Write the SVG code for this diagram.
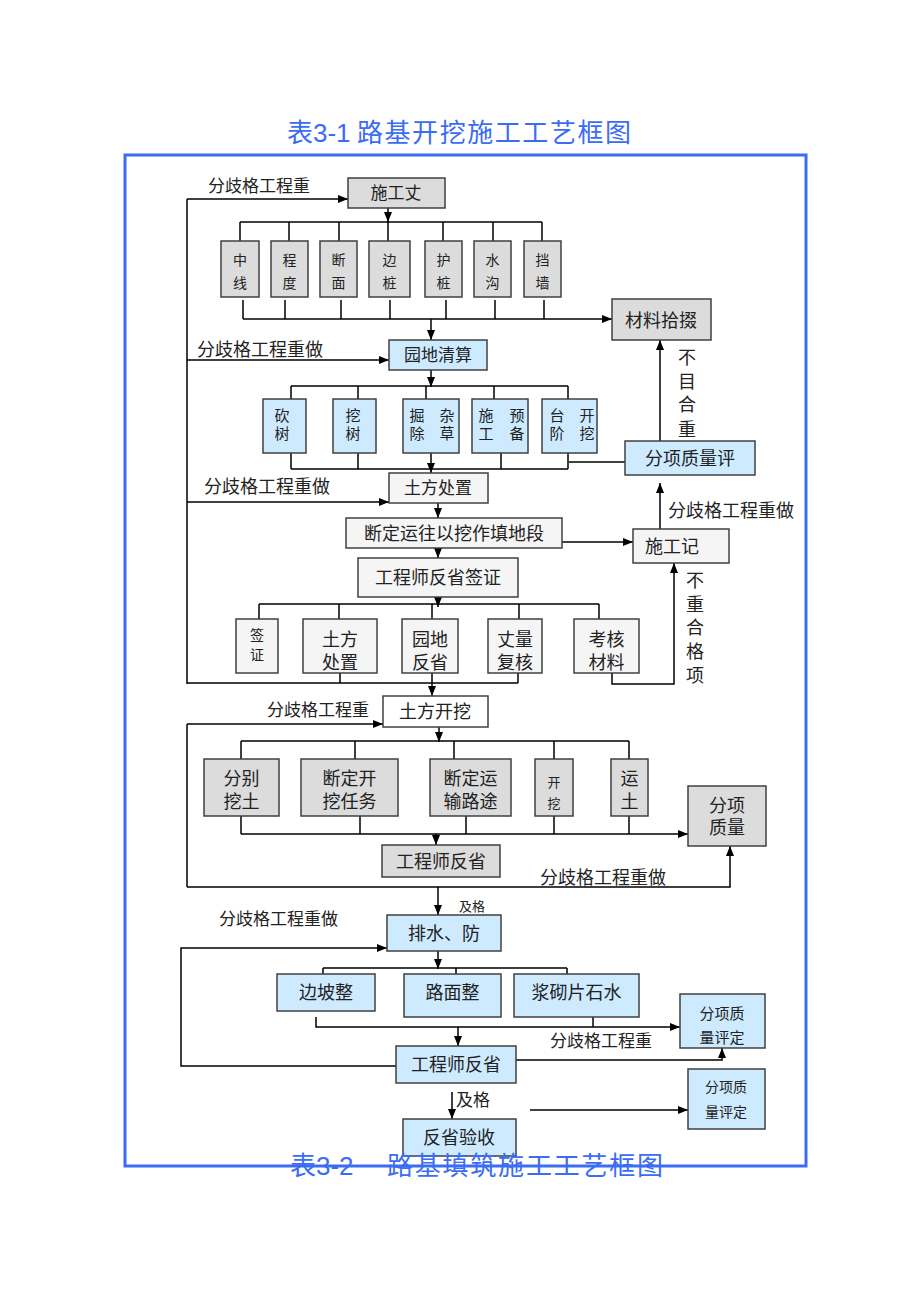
<svg xmlns="http://www.w3.org/2000/svg" width="920" height="1302" viewBox="0 0 920 1302">
<defs>
<marker id="ah" viewBox="0 0 10 8" refX="10" refY="4" markerWidth="10" markerHeight="8" orient="auto" markerUnits="userSpaceOnUse"><path d="M0 0 L10 4 L0 8 z" fill="#000"/></marker>
</defs>
<style>
text{font-family:'Liberation Sans','Noto Sans CJK SC',sans-serif;fill:#222}
.m{text-anchor:middle}
.s13{font-size:13px}.s14{font-size:14px}.s15{font-size:15px}.s17{font-size:17px}.s18{font-size:18px}
.g rect{fill:#dcdcdc;stroke:#404040;stroke-width:1.5}
.b rect{fill:#cdeaff;stroke:#404040;stroke-width:1.5}
.w rect{fill:#f5f5f5;stroke:#404040;stroke-width:1.5}
.x rect{fill:#ffffff;stroke:#404040;stroke-width:1.5}
#connectors path{stroke:#000;stroke-width:1.5;fill:none}
#connectors path.a{marker-end:url(#ah)}
.title{font-family:'Liberation Sans','Noto Sans CJK SC',sans-serif;fill:#3b6cf5;font-size:26px}
</style>
<rect width="920" height="1302" fill="#ffffff"/>

<text id="title1" class="title" x="287" y="142"><tspan x="287">表3-1</tspan><tspan x="357" textLength="274" lengthAdjust="spacing">路基开挖施工工艺框图</tspan></text>
<rect id="frame" x="125" y="155" width="681" height="1011" fill="none" stroke="#3b6cf5" stroke-width="3"/>

<g id="connectors">
<path class="a" d="M187 199 H348"/>
<path d="M187 199 V684"/>
<path class="a" d="M388 208 V222"/>
<path d="M240 222 H542 M240 222 V241 M289 222 V241 M339 222 V241 M388 222 V241 M443 222 V241 M493 222 V241 M542 222 V241"/>
<path d="M243 300 V319 M285 300 V319 M341 300 V319 M390 300 V319 M446 300 V319 M495 300 V319 M544 300 V319"/>
<path class="a" d="M243 319 H612"/>
<path class="a" d="M431 319 V340"/>
<path class="a" d="M187 360 H389"/>
<path class="a" d="M431 370 V387"/>
<path d="M291 386 H568 M291 386 V399 M358 386 V399 M426 386 V399 M494 386 V399 M568 386 V399"/>
<path d="M291 453 V469 M358 453 V469 M501 453 V469 M568 453 V469 M291 469 H568 M569 462 H625"/>
<path class="a" d="M431 453 V473"/>
<path class="a" d="M660 441 V340"/>
<path class="a" d="M187 502 H389"/>
<path class="a" d="M438 503 V518"/>
<path class="a" d="M562 542 H633"/>
<path class="a" d="M660 529 V483"/>
<path class="a" d="M438 548 V558"/>
<path class="a" d="M438 597 V607"/>
<path d="M259 604 H599 M259 604 V619 M339 604 V619 M432 604 V619 M519 604 V619 M599 604 V619"/>
<path d="M340 673 V683 M518 673 V683 M187 683 H518"/>
<path class="a" d="M432 673 V696"/>
<path class="a" d="M612 673 V684 H674 V563"/>
<path class="a" d="M187 724 H383"/>
<path d="M187 724 V887"/>
<path class="a" d="M439 727 V742"/>
<path d="M241 741 H629 M241 741 V759 M355 741 V759 M454 741 V759 M554 741 V759 M629 741 V759"/>
<path d="M241 816 V834 M360 816 V834 M466 816 V834 M554 816 V834 M629 816 V834"/>
<path class="a" d="M241 834 H688"/>
<path class="a" d="M436 834 V845"/>
<path class="a" d="M187 887 H730 V846"/>
<path class="a" d="M438 887 V915"/>
<path class="a" d="M396 1066 H181 V948 H387"/>
<path class="a" d="M438 951 V969"/>
<path d="M323 968 H567 M323 968 V974 M456 968 V974 M567 968 V974"/>
<path class="a" d="M316 1017 V1027 H680"/>
<path d="M593 1017 V1027"/>
<path class="a" d="M458 1027 V1046"/>
<path class="a" d="M516 1060 H722 V1048"/>
<path class="a" d="M452 1092 V1119"/>
<path class="a" d="M530 1110 H688"/>
</g>

<g id="labels">
<text class="s17" x="208" y="192">分歧格工程重</text>
<text class="s18" x="197" y="356">分歧格工程重做</text>
<text class="s18" x="204" y="493">分歧格工程重做</text>
<text class="s18" x="668" y="517">分歧格工程重做</text>
<text class="s18 m" x="687" y="363.5"><tspan x="687">不</tspan><tspan x="687" dy="24">目</tspan><tspan x="687" dy="23.5">合</tspan><tspan x="687" dy="24.5">重</tspan></text>
<text class="s18 m" x="695" y="586.5"><tspan x="695">不</tspan><tspan x="695" dy="24">重</tspan><tspan x="695" dy="23.5">合</tspan><tspan x="695" dy="24">格</tspan><tspan x="695" dy="23.5">项</tspan></text>
<text class="s17" x="267" y="716">分歧格工程重</text>
<text class="s18" x="540" y="884">分歧格工程重做</text>
<text class="s13" x="459" y="911">及格</text>
<text class="s17" x="219" y="925">分歧格工程重做</text>
<text class="s17" x="550" y="1047">分歧格工程重</text>
<text class="s17" x="456" y="1106">及格</text>
</g>

<g id="n_shigongzhang" class="g"><rect x="348" y="178" width="97" height="30"/><text class="s17 m" x="396" y="199">施工丈</text></g>
<g id="n_zhongxian" class="g"><rect x="221" y="241" width="38" height="56"/><text class="s14 m" x="240" y="265"><tspan x="240">中</tspan><tspan x="240" dy="23">线</tspan></text></g>
<g id="n_chengdu" class="g"><rect x="271" y="241" width="37" height="56"/><text class="s14 m" x="289.5" y="265"><tspan x="289.5">程</tspan><tspan x="289.5" dy="23">度</tspan></text></g>
<g id="n_duanmian" class="g"><rect x="320" y="241" width="37" height="56"/><text class="s14 m" x="338.5" y="265"><tspan x="338.5">断</tspan><tspan x="338.5" dy="23">面</tspan></text></g>
<g id="n_bianzhuang" class="g"><rect x="369" y="241" width="41" height="56"/><text class="s14 m" x="389.5" y="265"><tspan x="389.5">边</tspan><tspan x="389.5" dy="23">桩</tspan></text></g>
<g id="n_huzhuang" class="g"><rect x="425" y="241" width="37" height="56"/><text class="s14 m" x="443.5" y="265"><tspan x="443.5">护</tspan><tspan x="443.5" dy="23">桩</tspan></text></g>
<g id="n_shuigou" class="g"><rect x="474" y="241" width="37" height="56"/><text class="s14 m" x="492.5" y="265"><tspan x="492.5">水</tspan><tspan x="492.5" dy="23">沟</tspan></text></g>
<g id="n_dangqiang" class="g"><rect x="524" y="241" width="37" height="56"/><text class="s14 m" x="542.5" y="265"><tspan x="542.5">挡</tspan><tspan x="542.5" dy="23">墙</tspan></text></g>
<g id="n_cailiao" class="g"><rect x="612" y="299" width="99" height="41"/><text class="s18 m" x="661" y="326.5">材料拾掇</text></g>

<g id="n_yuandiqingsuan" class="b"><rect x="389" y="340" width="98" height="30"/><text class="s17 m" x="438" y="361">园地清算</text></g>
<g id="n_kanshu" class="b"><rect x="263" y="399" width="43" height="54"/><text class="s15 m" x="282" y="421"><tspan x="282">砍</tspan><tspan x="282" dy="18">树</tspan></text></g>
<g id="n_washu" class="b"><rect x="333" y="399" width="43" height="54"/><text class="s15 m" x="353" y="421"><tspan x="353">挖</tspan><tspan x="353" dy="18">树</tspan></text></g>
<g id="n_juechu" class="b"><rect x="403" y="399" width="56" height="54"/><text class="s15 m" x="417" y="421"><tspan x="417">掘</tspan><tspan x="417" dy="18">除</tspan></text><text class="s15 m" x="447" y="421"><tspan x="447">杂</tspan><tspan x="447" dy="18">草</tspan></text></g>
<g id="n_yubei" class="b"><rect x="472" y="399" width="56" height="54"/><text class="s15 m" x="486" y="421"><tspan x="486">施</tspan><tspan x="486" dy="18">工</tspan></text><text class="s15 m" x="517" y="421"><tspan x="517">预</tspan><tspan x="517" dy="18">备</tspan></text></g>
<g id="n_taijie" class="b"><rect x="542" y="399" width="55" height="54"/><text class="s15 m" x="557" y="421"><tspan x="557">台</tspan><tspan x="557" dy="18">阶</tspan></text><text class="s15 m" x="587" y="421"><tspan x="587">开</tspan><tspan x="587" dy="18">挖</tspan></text></g>
<g id="n_fxzlp" class="b"><rect x="625" y="441" width="130" height="34"/><text class="s18 m" x="690" y="464.5">分项质量评</text></g>

<g id="n_tufangchuzhi" class="w"><rect x="389" y="473" width="99" height="30"/><text class="s17 m" x="438" y="494">土方处置</text></g>
<g id="n_duanding" class="w"><rect x="346" y="518" width="216" height="30"/><text class="s18 m" x="454" y="539.5">断定运往以挖作填地段</text></g>
<g id="n_shigongji" class="w"><rect x="633" y="529" width="96" height="34"/><text class="s18" x="645" y="552.5">施工记</text></g>
<g id="n_gcsqz" class="w"><rect x="358" y="558" width="160" height="39"/><text class="s18 m" x="438" y="583.5">工程师反省签证</text></g>
<g id="n_qianzheng" class="w"><rect x="236" y="619" width="42" height="54"/><text class="s14 m" x="257" y="640"><tspan x="257">签</tspan><tspan x="257" dy="20">证</tspan></text></g>
<g id="n_tfcz2" class="w"><rect x="303" y="619" width="74" height="54"/><text class="s18 m" x="340" y="645.5"><tspan x="340">土方</tspan><tspan x="340" dy="23">处置</tspan></text></g>
<g id="n_ydfs" class="w"><rect x="402" y="619" width="56" height="54"/><text class="s18 m" x="430" y="645.5"><tspan x="430">园地</tspan><tspan x="430" dy="23">反省</tspan></text></g>
<g id="n_zlfh" class="w"><rect x="488" y="619" width="54" height="54"/><text class="s18 m" x="515" y="645.5"><tspan x="515">丈量</tspan><tspan x="515" dy="23">复核</tspan></text></g>
<g id="n_khcl" class="w"><rect x="574" y="619" width="65" height="54"/><text class="s18 m" x="606.5" y="645.5"><tspan x="606.5">考核</tspan><tspan x="606.5" dy="23">材料</tspan></text></g>

<g id="n_tufangkaiwa" class="x"><rect x="383" y="696" width="105" height="31"/><text class="s18 m" x="435" y="717.5">土方开挖</text></g>
<g id="n_fenbie" class="g"><rect x="204" y="759" width="75" height="57"/><text class="s18 m" x="241.5" y="784.5"><tspan x="241.5">分别</tspan><tspan x="241.5" dy="23">挖土</tspan></text></g>
<g id="n_ddkw" class="g"><rect x="301" y="759" width="97" height="57"/><text class="s18 m" x="349.5" y="784.5"><tspan x="349.5">断定开</tspan><tspan x="349.5" dy="23">挖任务</tspan></text></g>
<g id="n_ddys" class="g"><rect x="430" y="759" width="81" height="57"/><text class="s18 m" x="470.5" y="784.5"><tspan x="470.5">断定运</tspan><tspan x="470.5" dy="23">输路途</tspan></text></g>
<g id="n_kaiwa" class="g"><rect x="535" y="759" width="38" height="57"/><text class="s13 m" x="554" y="786.5"><tspan x="554">开</tspan><tspan x="554" dy="21">挖</tspan></text></g>
<g id="n_yuntu" class="g"><rect x="611" y="759" width="37" height="57"/><text class="s18 m" x="629.5" y="784.5"><tspan x="629.5">运</tspan><tspan x="629.5" dy="23">土</tspan></text></g>
<g id="n_fxzl" class="g"><rect x="688" y="786" width="78" height="60"/><text class="s18 m" x="727" y="811.5"><tspan x="727">分项</tspan><tspan x="727" dy="22">质量</tspan></text></g>
<g id="n_gcsfs1" class="g"><rect x="382" y="845" width="118" height="32"/><text class="s18 m" x="441" y="867.5">工程师反省</text></g>

<g id="n_paishui" class="b"><rect x="387" y="915" width="114" height="36"/><text class="s18 m" x="444" y="939.5">排水、防</text></g>
<g id="n_bianpo" class="b"><rect x="277" y="974" width="98" height="37"/><text class="s18 m" x="326" y="998.5">边坡整</text></g>
<g id="n_lumian" class="b"><rect x="404" y="974" width="97" height="43"/><text class="s18 m" x="452.5" y="998.5">路面整</text></g>
<g id="n_jiangqi" class="b"><rect x="514" y="974" width="125" height="43"/><text class="s18 m" x="576.5" y="998.5">浆砌片石水</text></g>
<g id="n_fxzlpd1" class="b"><rect x="680" y="994" width="85" height="54"/><text class="s15 m" x="722" y="1018.5"><tspan x="722">分项质</tspan><tspan x="722" dy="24">量评定</tspan></text></g>
<g id="n_gcsfs2" class="b"><rect x="396" y="1046" width="120" height="37"/><text class="s18 m" x="456" y="1070.5">工程师反省</text></g>
<g id="n_fxzlpd2" class="b"><rect x="688" y="1069" width="77" height="60"/><text class="s14 m" x="726" y="1092"><tspan x="726">分项质</tspan><tspan x="726" dy="25">量评定</tspan></text></g>
<g id="n_fsys" class="b"><rect x="403" y="1119" width="113" height="37"/><text class="s18 m" x="459" y="1143.5">反省验收</text></g>

<text id="title2" class="title" x="290" y="1175"><tspan x="290">表3-2</tspan><tspan x="387" textLength="276" lengthAdjust="spacing">路基填筑施工工艺框图</tspan></text>
</svg>
